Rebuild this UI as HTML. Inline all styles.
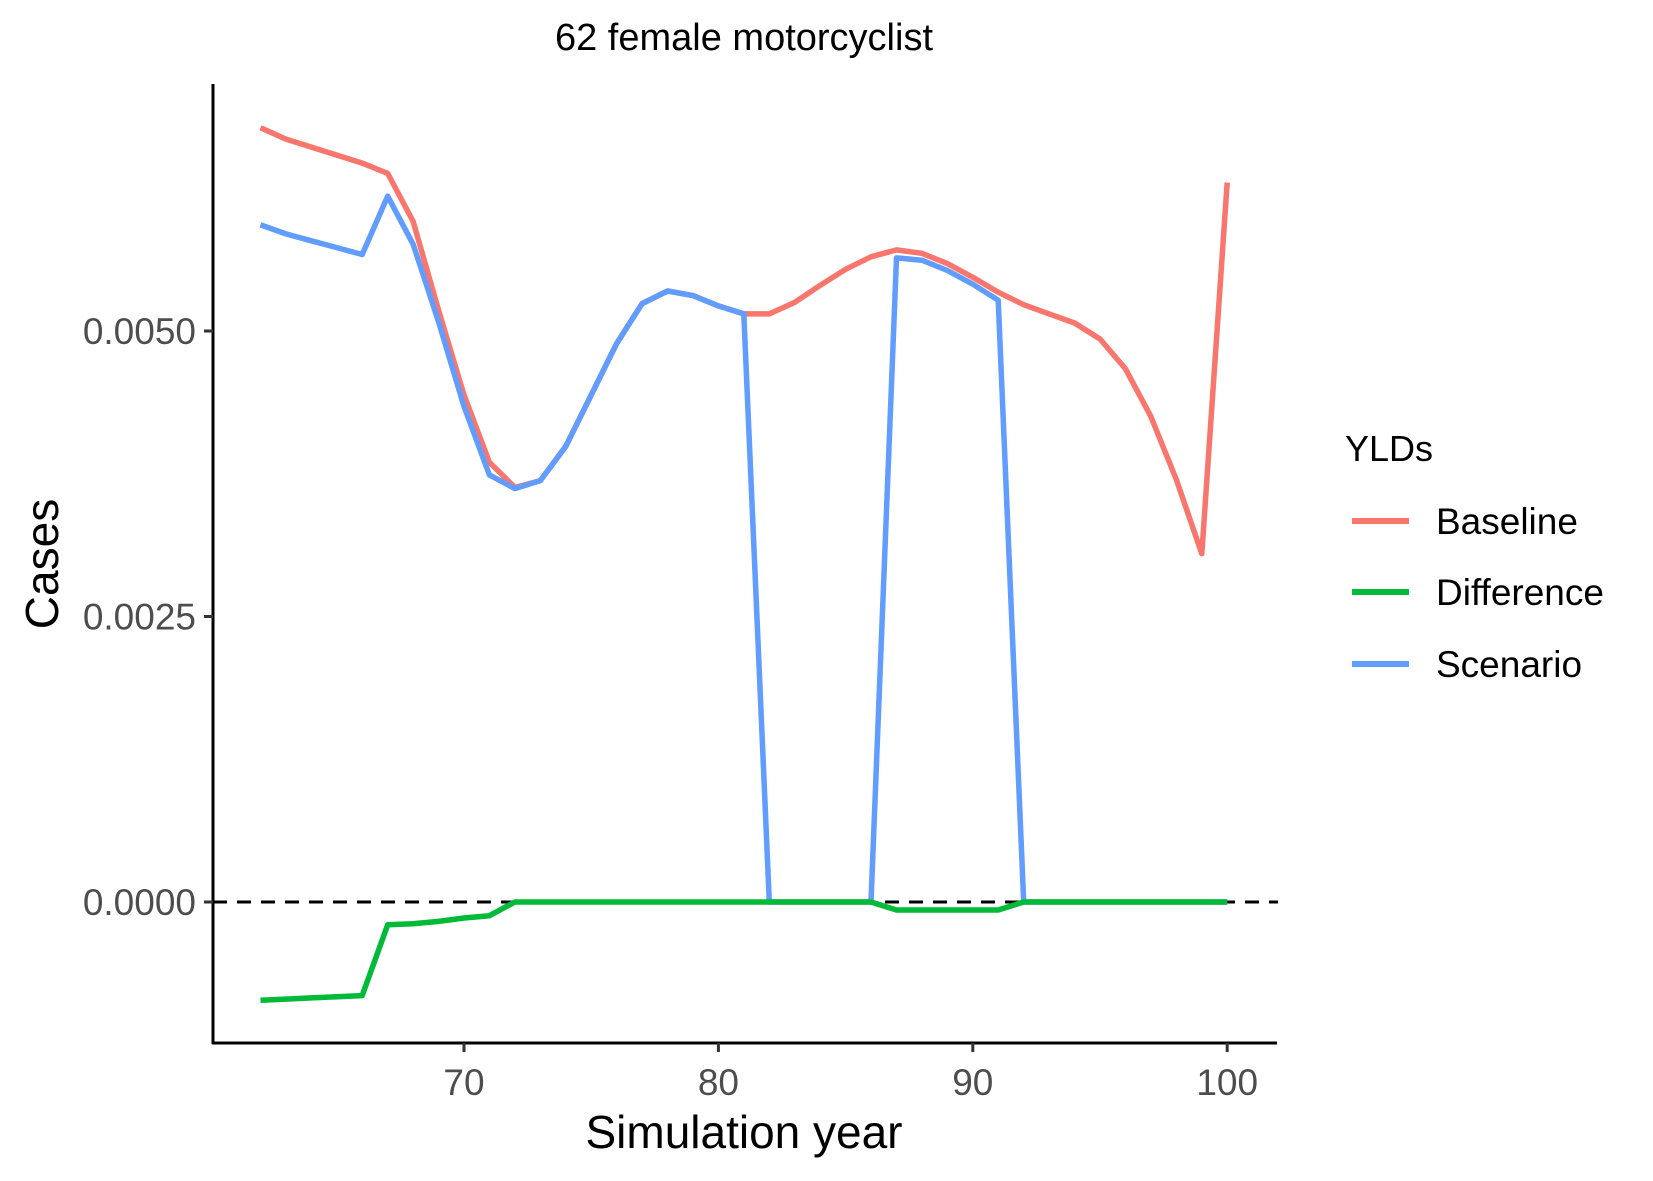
<!DOCTYPE html>
<html><head><meta charset="utf-8"><style>
body{margin:0;background:#fff;}
svg{display:block;font-family:"Liberation Sans",Arial,sans-serif;}
</style></head><body>
<svg id="chart" width="1653" height="1181" viewBox="0 0 1653 1181" xmlns="http://www.w3.org/2000/svg">
<rect width="1653" height="1181" fill="#fff"/>
<text x="744" y="50" font-size="38" text-anchor="middle" fill="#000">62 female motorcyclist</text>
<g id="plot"></g>
<text x="744" y="1148" font-size="46" text-anchor="middle" fill="#000">Simulation year</text>
<text transform="translate(58,564) rotate(-90)" font-size="46" text-anchor="middle" fill="#000">Cases</text>
<g>
<text x="1345" y="461" font-size="36" fill="#000">YLDs</text>
<line x1="1352" x2="1409" y1="521" y2="521" stroke="#F8766D" stroke-width="6"/>
<text x="1436" y="534" font-size="37" fill="#000">Baseline</text>
<line x1="1352" x2="1409" y1="592" y2="592" stroke="#00BA38" stroke-width="6"/>
<text x="1436" y="605" font-size="37" fill="#000">Difference</text>
<line x1="1352" x2="1409" y1="664" y2="664" stroke="#619CFF" stroke-width="6"/>
<text x="1436" y="677" font-size="37" fill="#000">Scenario</text>
</g>
</svg>
<script>
const years=[];for(let y=62;y<=100;y++)years.push(y);
const baseline=[0.00678,0.00668,0.00661,0.00654,0.00647,0.00638,0.00596,0.00518,0.00444,0.00385,0.00363,0.00369,0.00399,0.00444,0.00489,0.00524,0.00535,0.00531,0.00522,0.00515,0.00515,0.00525,0.00540,0.00554,0.00565,0.00571,0.00568,0.00559,0.00547,0.00534,0.00523,0.00515,0.00507,0.00493,0.00467,0.00425,0.00370,0.00305,0.00630];
const scenario=[0.00593,0.00585,0.00579,0.00573,0.00567,0.00618,0.00576,0.00508,0.00434,0.00374,0.00362,0.00369,0.00399,0.00444,0.00489,0.00524,0.00535,0.00531,0.00522,0.00515,0,0,0,0,0,0.00564,0.00562,0.00553,0.00541,0.00527,0,0,0,0,0,0,0,0,0];
const difference=[-0.00086,-0.00085,-0.00084,-0.00083,-0.00082,-0.00020,-0.00019,-0.00017,-0.00014,-0.00012,0,0,0,0,0,0,0,0,0,0,0,0,0,0,0,-0.00007,-0.00007,-0.00007,-0.00007,-0.00007,0,0,0,0,0,0,0,0,0];
const xTicks=[70,80,90,100];
const yTicks=[0,0.0025,0.005];
const yTickLabels=["0.0000","0.0025","0.0050"];
const NS="http://www.w3.org/2000/svg";
const X=v=>464+(v-70)*25.44;
const Y=v=>902-v*114200;
const g=document.getElementById('plot');
function mk(t,a){const e=document.createElementNS(NS,t);for(const k in a)e.setAttribute(k,a[k]);g.appendChild(e);return e;}
let z=mk('line',{x1:213,x2:1278,y1:Y(0),y2:Y(0),stroke:'#000','stroke-width':3,'stroke-dasharray':'14,10'});


function series(arr,color,name){
  const d=arr.map((v,i)=>(i?'L':'M')+X(years[i]).toFixed(1)+','+Y(v).toFixed(1)).join('');
  const p=mk('path',{d:d,fill:'none',stroke:color,'stroke-width':5.5,'stroke-linejoin':'round'});
  
  
}
series(baseline,'#F8766D','baseline-line');
series(scenario,'#619CFF','scenario-line');
series(difference,'#00BA38','difference-line');
let ya=mk('line',{x1:213,x2:213,y1:84,y2:1044,stroke:'#000','stroke-width':3});


let xa=mk('line',{x1:212,x2:1277,y1:1043,y2:1043,stroke:'#000','stroke-width':3});


xTicks.forEach(t=>{
  const l=mk('line',{x1:X(t),x2:X(t),y1:1043,y2:1052,stroke:'#333','stroke-width':3});
  
  
  const tx=mk('text',{x:X(t),y:1095,'font-size':37,'text-anchor':'middle',fill:'#4d4d4d'});
  tx.textContent=t;
  
  
});
yTicks.forEach((t,i)=>{
  const l=mk('line',{x1:204,x2:213,y1:Y(t),y2:Y(t),stroke:'#333','stroke-width':3});
  
  
  const tx=mk('text',{x:196,y:Y(t)+13,'font-size':37,'text-anchor':'end',fill:'#4d4d4d'});
  tx.textContent=yTickLabels[i];
  
  
});
</script>
</body></html>
